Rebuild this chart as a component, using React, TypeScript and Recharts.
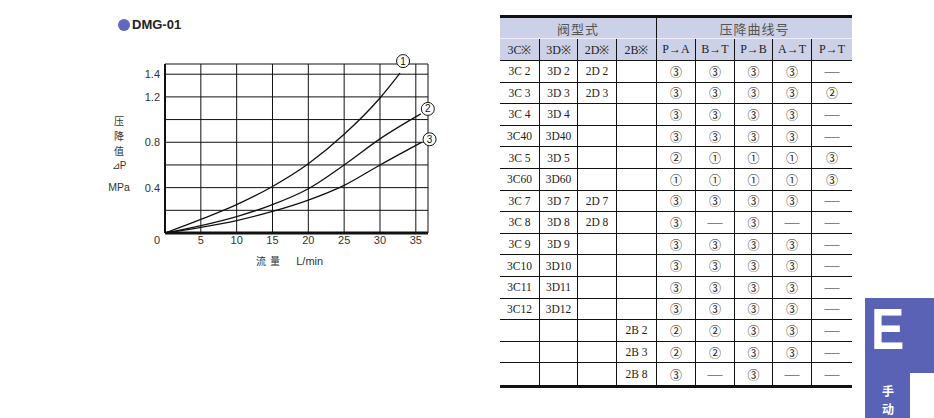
import React from 'react'
import { LineChart, Line, XAxis, YAxis, CartesianGrid } from 'recharts'

// chart axes
const flowTicks = [0, 5, 10, 15, 20, 25, 30, 35]
const pressureTicks = [0, 0.2, 0.4, 0.6, 0.8, 1.0, 1.2, 1.4]
const pressureLabels = [0.4, 0.8, 1.2, 1.4]

// pressure drop curves (L/min -> MPa)
const curve1Flow = [0, 5, 10, 15, 20, 25, 30, 32.8]
const curve1Drop = [0, 0.12, 0.25, 0.41, 0.61, 0.87, 1.19, 1.41]
const curve2Flow = [0, 5, 10, 15, 20, 25, 30, 35.7]
const curve2Drop = [0, 0.065, 0.145, 0.25, 0.39, 0.6, 0.83, 1.05]
const curve3Flow = [0, 5, 10, 15, 20, 25, 30, 35.8]
const curve3Drop = [0, 0.05, 0.11, 0.19, 0.29, 0.42, 0.6, 0.8]

// table
const valveCols = ['3C※', '3D※', '2D※', '2B※']
const portCols = ['P→A', 'B→T', 'P→B', 'A→T', 'P→T']
const col3C = ['3C 2', '3C 3', '3C 4', '3C40', '3C 5', '3C60', '3C 7', '3C 8', '3C 9', '3C10', '3C11', '3C12', '', '', '']
const col3D = ['3D 2', '3D 3', '3D 4', '3D40', '3D 5', '3D60', '3D 7', '3D 8', '3D 9', '3D10', '3D11', '3D12', '', '', '']
const col2D = ['2D 2', '2D 3', '', '', '', '', '2D 7', '2D 8', '', '', '', '', '', '', '']
const col2B = ['', '', '', '', '', '', '', '', '', '', '', '', '2B 2', '2B 3', '2B 8']
const curvePA = ['③', '③', '③', '③', '②', '①', '③', '③', '③', '③', '③', '③', '②', '②', '③']
const curveBT = ['③', '③', '③', '③', '①', '①', '③', '—', '③', '③', '③', '③', '②', '②', '—']
const curvePB = ['③', '③', '③', '③', '①', '①', '③', '③', '③', '③', '③', '③', '③', '③', '③']
const curveAT = ['③', '③', '③', '③', '①', '①', '③', '—', '③', '③', '③', '③', '③', '③', '—']
const curvePT = ['—', '②', '—', '—', '③', '③', '—', '—', '—', '—', '—', '—', '—', '—', '—']

const toPoints = (xs: number[], ys: number[]) => xs.map((x, i) => ({ x, y: ys[i] }))

const EndLabel = (num: string, count: number, dx: number, dy: number) => (props: any) => {
  const { x, y, index } = props
  if (index !== count - 1) return null
  return (
    <g>
      <circle cx={x + dx} cy={y + dy} r={6.5} fill="#fff" stroke="#111" strokeWidth={1} />
      <text x={x + dx} y={y + dy + 3.5} textAnchor="middle" fontSize={10} fontFamily="Liberation Sans" fill="#111">{num}</text>
    </g>
  )
}

const YTick = (props: any) => {
  const { x, y, payload } = props
  if (!pressureLabels.includes(payload.value)) return null
  return <text x={x} y={y + 4} textAnchor="end" fontSize={11} fontFamily="Liberation Sans" fill="#333">{payload.value.toFixed(1)}</text>
}

const XTick = (props: any) => {
  const { x, y, payload } = props
  return <text x={payload.value === 0 ? x - 8 : x} y={y + 8} textAnchor="middle" fontSize={11} fontFamily="Liberation Sans" fill="#333">{payload.value}</text>
}

function PressureChart() {
  return (
    <LineChart width={440} height={280} margin={{ top: 64, right: 12, bottom: 17, left: 125 }}>
      <CartesianGrid stroke="#111" strokeWidth={1} />
      <XAxis type="number" dataKey="x" domain={[0, 36.7]} ticks={flowTicks} interval={0} height={30}
        axisLine={{ stroke: '#111', strokeWidth: 3 }} tickLine={false} tickSize={0} tickMargin={3} tick={<XTick />} />
      <YAxis type="number" dataKey="y" domain={[0, 1.49]} ticks={pressureTicks} interval={0} width={40}
        axisLine={{ stroke: '#111', strokeWidth: 2 }} tickLine={false} tickSize={0} tickMargin={5} tick={<YTick />} />
      <Line data={toPoints(curve1Flow, curve1Drop)} dataKey="y" type="monotone" stroke="#111" strokeWidth={1.3} dot={false} isAnimationActive={false} label={EndLabel('1', curve1Flow.length, 3, -12)} />
      <Line data={toPoints(curve2Flow, curve2Drop)} dataKey="y" type="monotone" stroke="#111" strokeWidth={1.3} dot={false} isAnimationActive={false} label={EndLabel('2', curve2Flow.length, 7, -5)} />
      <Line data={toPoints(curve3Flow, curve3Drop)} dataKey="y" type="monotone" stroke="#111" strokeWidth={1.3} dot={false} isAnimationActive={false} label={EndLabel('3', curve3Flow.length, 8, -3)} />
    </LineChart>
  )
}

const headBg = '#cdd1e7'
const colWidths = [40, 38, 39, 40, 39, 39, 38, 39, 40]
const circled = ['①', '②', '③']

function CurveTable() {
  const rows = col3C.map((_, i) => [col3C[i], col3D[i], col2D[i], col2B[i], curvePA[i], curveBT[i], curvePB[i], curveAT[i], curvePT[i]])
  const cell = (c: number, extra: React.CSSProperties = {}): React.CSSProperties => ({
    boxSizing: 'border-box',
    borderRight: c < 8 ? '1px solid #111' : 'none',
    display: 'flex', alignItems: 'center', justifyContent: 'center',
    ...extra,
  })
  return (
    <div style={{
      position: 'absolute', left: 500, top: 15, width: 352,
      borderTop: '3px solid #111', borderBottom: '3px solid #111',
      display: 'grid', gridTemplateColumns: colWidths.map(w => w + 'px').join(' '),
      gridTemplateRows: '21px 22px ' + rows.map(() => '21.6px').join(' '),
      fontFamily: '"Liberation Serif", serif', fontSize: 11.5, color: '#222',
    }}>
      <div style={cell(3, { gridColumn: 'span 4', background: headBg, borderBottom: '1px solid #eef', fontFamily: '"Noto Sans CJK SC"', fontSize: 13, color: '#555', letterSpacing: 1 })}>阀型式</div>
      <div style={cell(8, { gridColumn: 'span 5', background: headBg, borderBottom: '1px solid #eef', fontFamily: '"Noto Sans CJK SC"', fontSize: 13, color: '#555', letterSpacing: 1 })}>压降曲线号</div>
      {[...valveCols, ...portCols].map((h, c) => (
        <div key={'h' + c} style={cell(c, { background: headBg, borderBottom: '1px solid #111', fontSize: 12 })}>{h}</div>
      ))}
      {rows.map((r, i) => r.map((v, c) => (
        <div key={i + '-' + c} style={cell(c, {
          borderBottom: i < rows.length - 1 ? '1px solid #111' : 'none',
          fontSize: v === '—' ? 15 : circled.includes(v) ? 12 : 11.5,
          fontFamily: circled.includes(v) ? '"Noto Sans CJK SC"' : undefined,
        })}>{v}</div>
      )))}
    </div>
  )
}

export default function App() {
  return (
    <div style={{ position: 'absolute', left: 0, top: 0, width: 934, height: 418, background: '#fff', overflow: 'hidden', fontFamily: '"Liberation Sans", sans-serif' }}>
      <div style={{ position: 'absolute', left: 118, top: 19, width: 12, height: 12, borderRadius: 6, background: '#6068c0' }} />
      <div style={{ position: 'absolute', left: 132, top: 16, fontSize: 13, fontWeight: 'bold', color: '#222', lineHeight: '18px' }}>DMG-01</div>

      <div style={{ position: 'absolute', left: 0, top: 0 }}>
        <PressureChart />
      </div>

      <div style={{ position: 'absolute', left: 104, top: 113, width: 30, textAlign: 'center', fontSize: 10, color: '#333', lineHeight: '15px', fontFamily: '"Noto Sans CJK SC"' }}>
        <div>压</div>
        <div>降</div>
        <div>值</div>
        <div style={{ fontFamily: '"Liberation Sans"' }}>⊿P</div>
      </div>
      <div style={{ position: 'absolute', left: 104, top: 181, width: 30, textAlign: 'center', fontSize: 10.5, color: '#333' }}>MPa</div>
      <div style={{ position: 'absolute', left: 256, top: 253, fontSize: 11, color: '#333', whiteSpace: 'pre' }}>
        <span style={{ fontFamily: '"Noto Sans CJK SC"', fontSize: 10, letterSpacing: 4 }}>流量</span>
        <span>{'    L/min'}</span>
      </div>

      <CurveTable />

      <div style={{ position: 'absolute', left: 865, top: 298, width: 69, height: 120, background: '#5a62b6' }} />
      <div style={{ position: 'absolute', left: 910, top: 373, width: 24, height: 45, background: '#fff' }} />
      <div style={{ position: 'absolute', left: 871, top: 300, fontSize: 58, lineHeight: '58px', fontWeight: 'bold', color: '#fff', transform: 'scaleX(0.86)', transformOrigin: 'left top' }}>E</div>
      <div style={{ position: 'absolute', left: 878, top: 382, width: 20, textAlign: 'center', fontSize: 12, lineHeight: '18px', fontWeight: 'bold', color: '#fff', fontFamily: '"Noto Sans CJK SC"' }}>
        <div>手</div>
        <div>动</div>
      </div>
    </div>
  )
}
